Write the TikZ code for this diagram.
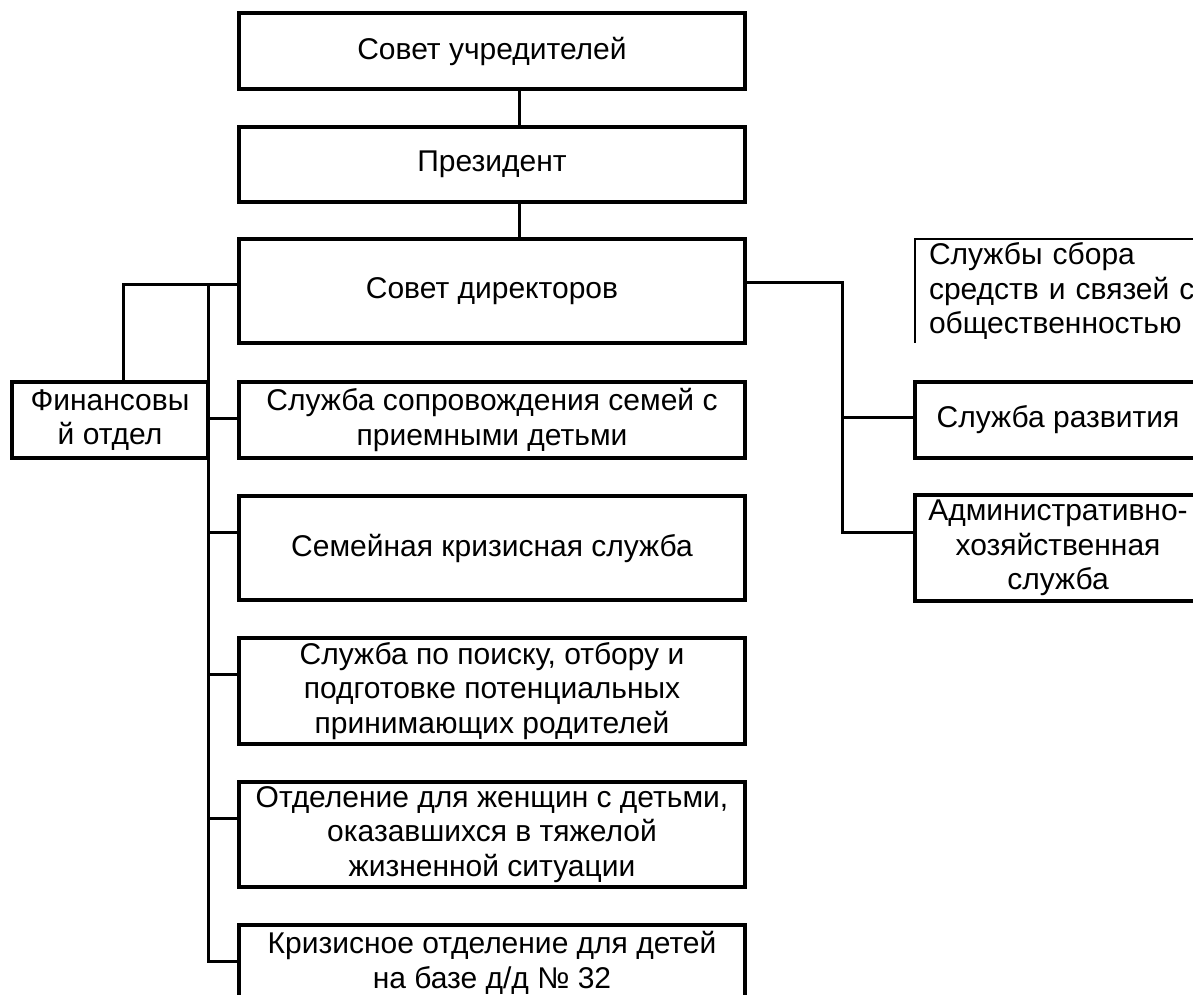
\documentclass[tikz,border=0pt]{standalone}
\usepackage{fontspec}
\setmainfont{Liberation Sans}
\usetikzlibrary{positioning}

\begin{document}
\begin{tikzpicture}[
						x=1pt, y=1pt,
						font=\fontsize{30pt}{34.5pt}\selectfont,
						block/.style={rectangle, draw=black, line width=4pt, minimum width=506pt, minimum height=76pt, inner sep=0pt, outer sep=0pt, align=center},
						tallblock/.style={block, minimum height=105pt},
						sideblock/.style={block, minimum width=286pt},
						finblock/.style={block, minimum width=196pt},
						noteblock/.style={rectangle, minimum height=104pt, inner xsep=14pt, inner ysep=0pt, outer sep=0pt, text width=272pt, align=left},
						link/.style={line width=3pt}
					]
					\path[use as bounding box, clip] (0,0) rectangle (1193,995);
					\node[block] (founders) at (492,944) {Совет учредителей};
					\node[block, minimum height=75pt] (president) [below=38pt of founders] {Президент};
					\node[tallblock, minimum height=104pt] (directors) [below=37pt of president] {Совет директоров};
					\node[block] (escort) [below=39pt of directors] {Служба сопровождения семей с\\приемными детьми};
					\node[tallblock, minimum height=104pt] (crisis) [below=38pt of escort] {Семейная кризисная служба};
					\node[tallblock, minimum height=106pt] (search) [below=38pt of crisis] {Служба по поиску, отбору и\\подготовке потенциальных\\принимающих родителей};
					\node[tallblock] (women) [below=38pt of search] {Отделение для женщин с детьми,\\оказавшихся в тяжелой\\жизненной ситуации};
					\node[block] (shelter) [below=38pt of women] {Кризисное отделение для детей\\на базе д/д № 32};
					\node[finblock] (finance) [left=31pt of escort] {Финансовы\\й отдел};
					\node[sideblock] (development) [right=170pt of escort] {Служба развития};
					\node[sideblock, minimum height=106pt] (household) [below=37pt of development] {Административно-\\хозяйственная\\служба};
					\node[noteblock] (fundraising) [right=170pt of directors] {Службы сбора\\средств и связей с\\общественностью};
					\draw[line width=1.5pt] (fundraising.south west) -- (fundraising.north west) -- (fundraising.north east);
					\coordinate (stem) at ([xshift=27pt]founders.south);
					\coordinate (dirleft) at ([yshift=-46pt]directors.north west);
					\coordinate (dirright) at ([yshift=-44pt]directors.north east);
					\coordinate (shelterin) at ([yshift=-36pt]shelter.north west);
					\coordinate (trunkend) at (finance.east |- shelterin);
					\coordinate (householdin) at ([yshift=-38pt]household.north west);
					\coordinate (busend) at ([xshift=-73pt]householdin);
					\begin{scope}[link]
					\draw (stem) -- (stem |- president.north);
					\draw (stem |- president.south) -- (stem |- directors.north);
					\draw (dirleft) -| ([xshift=13pt]finance.north);
					\draw (dirleft) -| (trunkend);
					\foreach \n in {escort,crisis,search,women,shelter}
						\draw ([yshift=-37pt]\n.north west) -| (trunkend);
					\draw (dirright) -| (busend) -- (householdin);
					\draw ([yshift=-36pt]development.north west) -| (busend);
					\end{scope}
					\end{tikzpicture}
\end{document}
